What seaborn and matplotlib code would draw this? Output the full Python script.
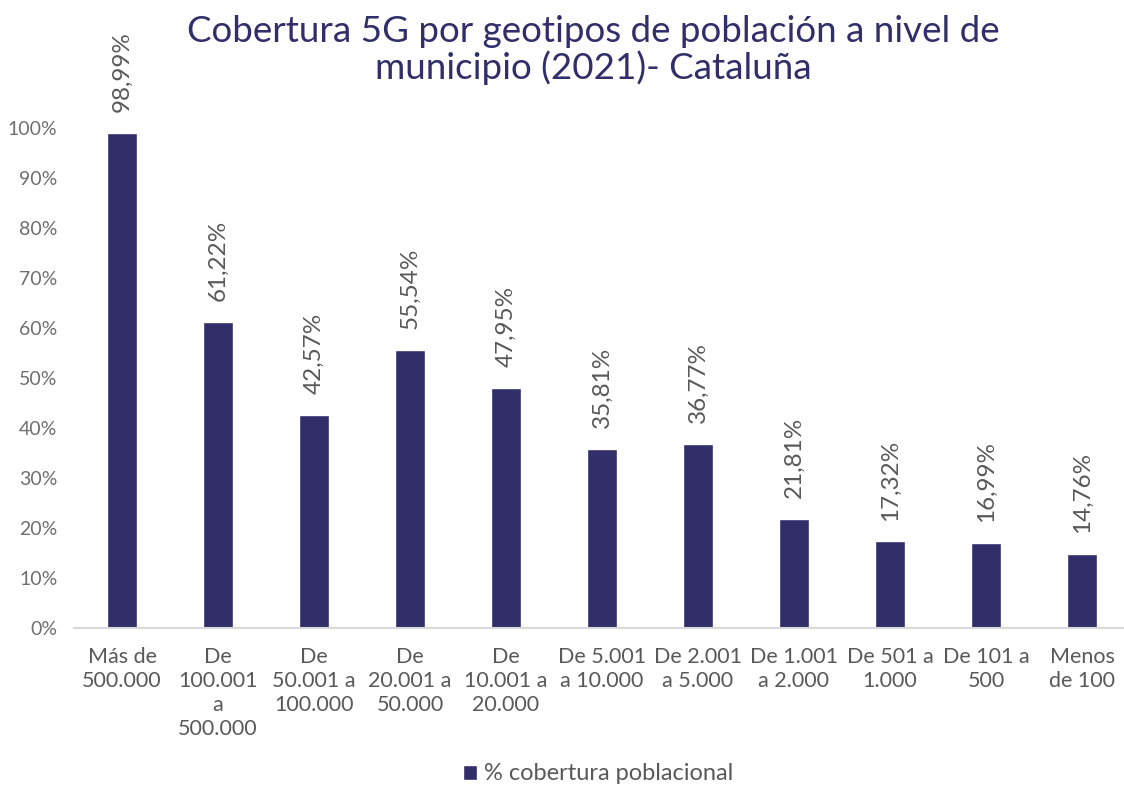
import matplotlib
matplotlib.use('Agg')
import matplotlib.pyplot as plt
import seaborn as sns
import pandas as pd

# Data
categories = ['Más de\n500.000', 'De\n100.001\na\n500.000', 'De\n50.001 a\n100.000',
              'De\n20.001 a\n50.000', 'De\n10.001 a\n20.000', 'De 5.001\na 10.000',
              'De 2.001\na 5.000', 'De 1.001\na 2.000', 'De 501 a\n1.000',
              'De 101 a\n500', 'Menos\nde 100']
coverage = [98.99, 61.22, 42.57, 55.54, 47.95, 35.81, 36.77, 21.81, 17.32, 16.99, 14.76]
series_name = '% cobertura poblacional'
title = 'Cobertura 5G por geotipos de población a nivel de\nmunicipio (2021)- Cataluña'

df = pd.DataFrame({'Geotipo': categories, 'Cobertura': coverage})

sns.set_theme(style='white')
plt.rcParams['font.family'] = ['Lato', 'DejaVu Sans']

bar_color = '#312E6A'
text_gray = '#595959'

fig = plt.figure(figsize=(11.24, 7.85), dpi=100)
ax = fig.add_axes([74 / 1124, 1 - 628 / 785, 1056 / 1124, 500 / 785])

sns.barplot(data=df, x='Geotipo', y='Cobertura', color=bar_color, width=0.3125,
            saturation=1, label=series_name, ax=ax)

# value labels, rotated
labels = [f'{v:.2f}'.replace('.', ',') + '%' for v in coverage]
ax.bar_label(ax.containers[0], labels=labels, rotation=90, padding=15,
             fontsize=17.5, color=text_gray)

ax.set_ylim(0, 100)
ax.set_xlim(-0.5, len(categories) - 0.5)
ax.set_yticks(range(0, 101, 10))
ax.set_yticklabels([f'{t}%' for t in range(0, 101, 10)])
ax.tick_params(axis='y', length=0, labelsize=14, labelcolor='#6F6F6F', pad=12)
ax.tick_params(axis='x', which='major', length=0, labelsize=15.5, labelcolor=text_gray, pad=14)
for lbl in ax.get_xticklabels():
    lbl.set_linespacing(1.25)
ax.set_xticks([i - 0.5 for i in range(len(categories) + 1)], minor=True)
ax.tick_params(axis='x', which='minor', length=6, color='#D9D9D9', width=1.2, direction='out')
ax.set_xlabel('')
ax.set_ylabel('')
ax.grid(False)

for side in ['top', 'right', 'left']:
    ax.spines[side].set_visible(False)
ax.spines['bottom'].set_color('#D9D9D9')
ax.spines['bottom'].set_linewidth(1.5)

fig.text(593 / 1124, 1 - 50 / 785, title, ha='center', va='center',
         fontsize=26.5, color=bar_color, linespacing=1.05)

ax.legend(loc='center', bbox_to_anchor=(0.5 - 4 / 1056, (628 - 774) / 500),
          frameon=False, fontsize=17, handlelength=0.6, handleheight=0.6,
          handletextpad=0.3, labelcolor=text_gray)

fig.savefig('out.png', dpi=100)
